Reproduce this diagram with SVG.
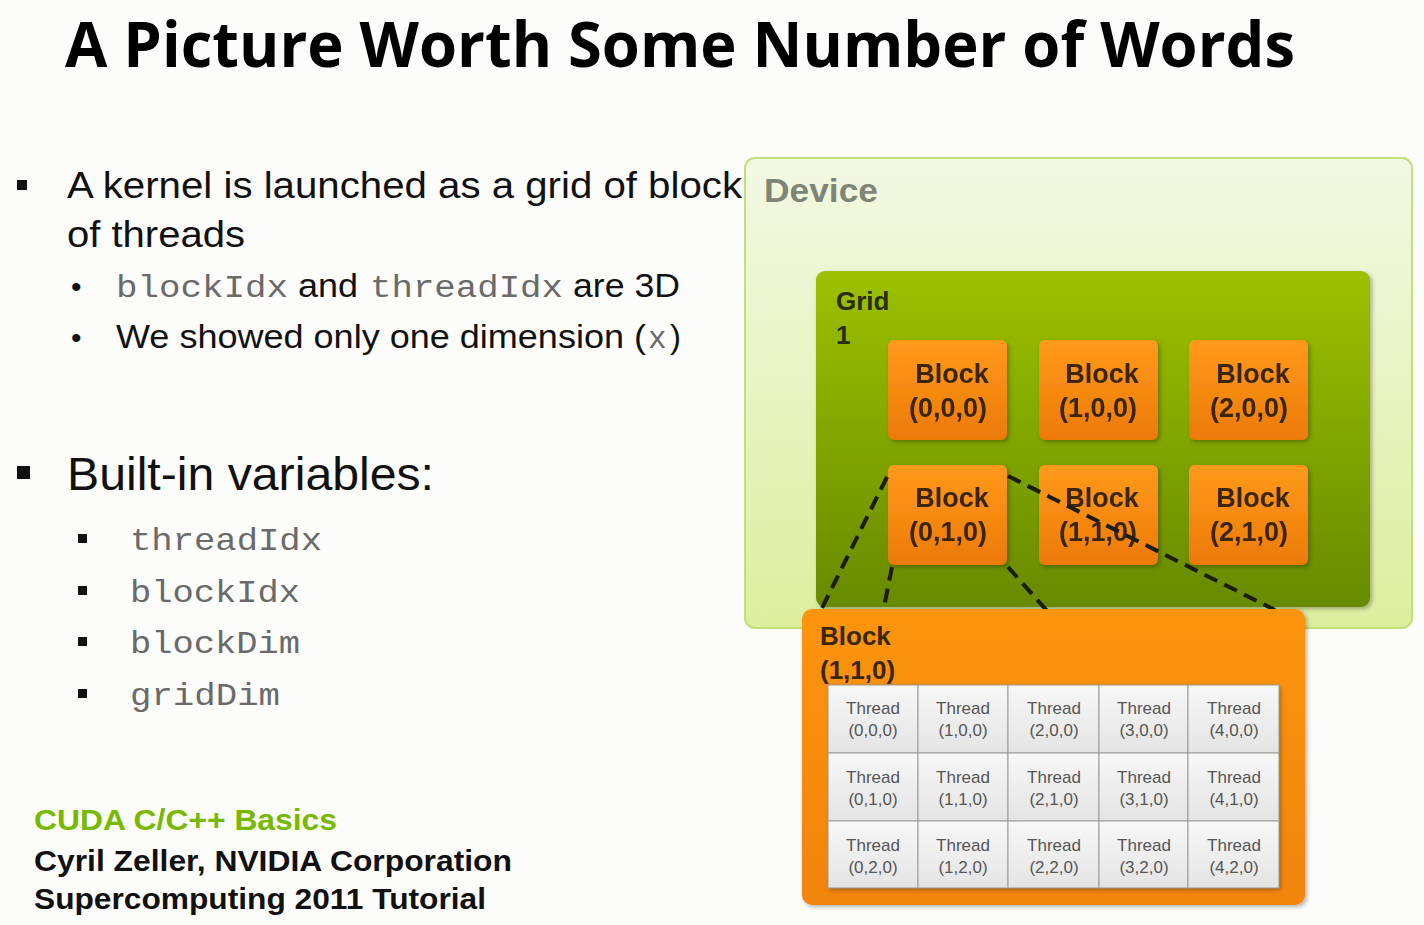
<svg xmlns="http://www.w3.org/2000/svg" width="1424" height="925" viewBox="0 0 1424 925">
  <defs>
    <linearGradient id="devFill" x1="0" y1="0" x2="0" y2="1">
      <stop offset="0" stop-color="#f3f8e4"/>
      <stop offset="1" stop-color="#dcef9e"/>
    </linearGradient>
    <linearGradient id="gridFill" x1="0" y1="0" x2="0" y2="1">
      <stop offset="0" stop-color="#9dc100"/>
      <stop offset="1" stop-color="#678a00"/>
    </linearGradient>
    <linearGradient id="blockFill" x1="0" y1="0" x2="0" y2="1">
      <stop offset="0" stop-color="#ff9a1c"/>
      <stop offset="1" stop-color="#ec7a06"/>
    </linearGradient>
    <linearGradient id="bigFill" x1="0" y1="0" x2="0" y2="1">
      <stop offset="0" stop-color="#fb9410"/>
      <stop offset="1" stop-color="#f28508"/>
    </linearGradient>
    <linearGradient id="cellFill" x1="0" y1="0" x2="0" y2="1">
      <stop offset="0" stop-color="#f7f7f7"/>
      <stop offset="1" stop-color="#e4e4e4"/>
    </linearGradient>
    <filter id="shadow" x="-10%" y="-10%" width="120%" height="120%">
      <feDropShadow dx="2" dy="2" stdDeviation="2" flood-color="#000" flood-opacity="0.3"/>
    </filter>
  </defs>
  <style>
    .title { font-family: "Open Sans", "Liberation Sans", sans-serif; font-weight: 700; font-size: 62px; fill: #000; }
    .body { font-family: "Liberation Sans", Arial, sans-serif; fill: #111; }
    .mono { font-family: "Liberation Mono", "Courier New", monospace; fill: #6a6a6a; }
    .lbl { font-family: "Liberation Sans", Arial, sans-serif; font-weight: 700; }
    .blk { font-family: "Liberation Sans", Arial, sans-serif; font-weight: 700; font-size: 27px; fill: #3b2608; text-anchor: middle; }
    .thr { font-family: "Liberation Sans", Arial, sans-serif; font-size: 17px; fill: #555; text-anchor: middle; }
    .cell { fill: url(#cellFill); stroke: #9a9a9a; stroke-width: 1; }
    .dash { fill: none; stroke: #1c1c10; stroke-width: 4; stroke-dasharray: 14 8; }
  </style>

  <rect width="1424" height="925" fill="#fcfcfa"/>

  <text class="title" x="65" y="67" textLength="1230" lengthAdjust="spacingAndGlyphs">A Picture Worth Some Number of Words</text>

  <!-- bullet text -->
  <g id="bullets">
    <rect x="17" y="180" width="10" height="10" fill="#111"/>
    <text class="body" x="67" y="198" font-size="37" textLength="675" lengthAdjust="spacingAndGlyphs">A kernel is launched as a grid of block</text>
    <text class="body" x="67" y="247" font-size="37" textLength="178" lengthAdjust="spacingAndGlyphs">of threads</text>
    <text class="body" x="71" y="297" font-size="30">•</text>
    <text class="mono" x="116" y="297" font-size="31" textLength="172" lengthAdjust="spacingAndGlyphs">blockIdx</text>
    <text class="body" x="298" y="297" font-size="33" textLength="60" lengthAdjust="spacingAndGlyphs">and</text>
    <text class="mono" x="370" y="297" font-size="31" textLength="193" lengthAdjust="spacingAndGlyphs">threadIdx</text>
    <text class="body" x="573" y="297" font-size="33" textLength="107" lengthAdjust="spacingAndGlyphs">are 3D</text>
    <text class="body" x="71" y="348" font-size="30">•</text>
    <text class="body" x="116" y="348" font-size="33" textLength="530" lengthAdjust="spacingAndGlyphs">We showed only one dimension (</text>
    <text class="mono" x="648" y="348" font-size="31">x</text>
    <text class="body" x="670" y="348" font-size="33">)</text>

    <rect x="17" y="466" width="13" height="13" fill="#111"/>
    <text class="body" x="67" y="490" font-size="46" textLength="367" lengthAdjust="spacingAndGlyphs">Built-in variables:</text>
    <rect x="78" y="534" width="9" height="9" fill="#111"/>
    <text class="mono" x="130" y="550" font-size="32" textLength="192" lengthAdjust="spacingAndGlyphs">threadIdx</text>
    <rect x="78" y="586" width="9" height="9" fill="#111"/>
    <text class="mono" x="130" y="602" font-size="32" textLength="170" lengthAdjust="spacingAndGlyphs">blockIdx</text>
    <rect x="78" y="637" width="9" height="9" fill="#111"/>
    <text class="mono" x="130" y="653" font-size="32" textLength="170" lengthAdjust="spacingAndGlyphs">blockDim</text>
    <rect x="78" y="689" width="9" height="9" fill="#111"/>
    <text class="mono" x="130" y="705" font-size="32" textLength="150" lengthAdjust="spacingAndGlyphs">gridDim</text>
  </g>

  <!-- footer -->
  <g id="footer">
    <text class="lbl" x="34" y="830" font-size="29" fill="#76b900" textLength="303" lengthAdjust="spacingAndGlyphs">CUDA C/C++ Basics</text>
    <text class="lbl" x="34" y="871" font-size="29" fill="#111" textLength="478" lengthAdjust="spacingAndGlyphs">Cyril Zeller, NVIDIA Corporation</text>
    <text class="lbl" x="34" y="909" font-size="29" fill="#111" textLength="452" lengthAdjust="spacingAndGlyphs">Supercomputing 2011 Tutorial</text>
  </g>

  <!-- device container -->
  <g id="device">
    <rect x="745" y="158" width="667" height="470" rx="10" fill="url(#devFill)" stroke="#c4df78" stroke-width="2"/>
    <text class="lbl" x="764" y="202" font-size="34" fill="#7d8676" textLength="114" lengthAdjust="spacingAndGlyphs">Device</text>
  </g>

  <!-- grid container -->
  <g id="grid">
    <rect x="816" y="271" width="554" height="336" rx="9" fill="url(#gridFill)" filter="url(#shadow)"/>
    <text class="lbl" x="836" y="310" font-size="26" fill="#2a2e10">Grid</text>
    <text class="lbl" x="836" y="344" font-size="26" fill="#2a2e10">1</text>
  </g>

  <!-- blocks in the grid -->
  <g id="block-000" filter="url(#shadow)">
    <rect x="888" y="340" width="119" height="100" rx="6" fill="url(#blockFill)"/>
    <text class="blk" x="952" y="383">Block</text>
    <text class="blk" x="948" y="417">(0,0,0)</text>
  </g>
  <g id="block-100" filter="url(#shadow)">
    <rect x="1039" y="340" width="119" height="100" rx="6" fill="url(#blockFill)"/>
    <text class="blk" x="1102" y="383">Block</text>
    <text class="blk" x="1098" y="417">(1,0,0)</text>
  </g>
  <g id="block-200" filter="url(#shadow)">
    <rect x="1189" y="340" width="119" height="100" rx="6" fill="url(#blockFill)"/>
    <text class="blk" x="1253" y="383">Block</text>
    <text class="blk" x="1249" y="417">(2,0,0)</text>
  </g>
  <g id="block-010" filter="url(#shadow)">
    <rect x="888" y="465" width="119" height="100" rx="6" fill="url(#blockFill)"/>
    <text class="blk" x="952" y="507">Block</text>
    <text class="blk" x="948" y="541">(0,1,0)</text>
  </g>
  <g id="block-110" filter="url(#shadow)">
    <rect x="1039" y="465" width="119" height="100" rx="6" fill="url(#blockFill)"/>
    <text class="blk" x="1102" y="507">Block</text>
    <text class="blk" x="1098" y="541">(1,1,0)</text>
  </g>
  <g id="block-210" filter="url(#shadow)">
    <rect x="1189" y="465" width="119" height="100" rx="6" fill="url(#blockFill)"/>
    <text class="blk" x="1253" y="507">Block</text>
    <text class="blk" x="1249" y="541">(2,1,0)</text>
  </g>

  <!-- dashed zoom lines -->
  <g id="connectors">
    <line class="dash" x1="887" y1="477" x2="820" y2="612"/>
    <line class="dash" x1="892" y1="567" x2="883" y2="612"/>
    <line class="dash" x1="1008" y1="567" x2="1048" y2="612"/>
    <line class="dash" x1="1008" y1="476" x2="1275" y2="610"/>
  </g>

  <!-- enlarged block with its threads -->
  <g id="block-detail">
    <rect x="802" y="609" width="503" height="296" rx="10" fill="url(#bigFill)" filter="url(#shadow)"/>
    <text class="lbl" x="820" y="645" font-size="26" fill="#3b2608">Block</text>
    <text class="lbl" x="820" y="679" font-size="26" fill="#3b2608">(1,1,0)</text>
    <g filter="url(#shadow)">
      <rect x="828" y="685" width="451" height="203" fill="#eee"/>
    </g>
    <g id="threads">
      <rect class="cell" x="828" y="685" width="90" height="68"/>
      <rect class="cell" x="918" y="685" width="90" height="68"/>
      <rect class="cell" x="1008" y="685" width="91" height="68"/>
      <rect class="cell" x="1099" y="685" width="89" height="68"/>
      <rect class="cell" x="1188" y="685" width="91" height="68"/>
      <rect class="cell" x="828" y="753" width="90" height="68"/>
      <rect class="cell" x="918" y="753" width="90" height="68"/>
      <rect class="cell" x="1008" y="753" width="91" height="68"/>
      <rect class="cell" x="1099" y="753" width="89" height="68"/>
      <rect class="cell" x="1188" y="753" width="91" height="68"/>
      <rect class="cell" x="828" y="821" width="90" height="67"/>
      <rect class="cell" x="918" y="821" width="90" height="67"/>
      <rect class="cell" x="1008" y="821" width="91" height="67"/>
      <rect class="cell" x="1099" y="821" width="89" height="67"/>
      <rect class="cell" x="1188" y="821" width="91" height="67"/>

      <text class="thr" x="873" y="714">Thread</text><text class="thr" x="873" y="736">(0,0,0)</text>
      <text class="thr" x="963" y="714">Thread</text><text class="thr" x="963" y="736">(1,0,0)</text>
      <text class="thr" x="1054" y="714">Thread</text><text class="thr" x="1054" y="736">(2,0,0)</text>
      <text class="thr" x="1144" y="714">Thread</text><text class="thr" x="1144" y="736">(3,0,0)</text>
      <text class="thr" x="1234" y="714">Thread</text><text class="thr" x="1234" y="736">(4,0,0)</text>

      <text class="thr" x="873" y="783">Thread</text><text class="thr" x="873" y="805">(0,1,0)</text>
      <text class="thr" x="963" y="783">Thread</text><text class="thr" x="963" y="805">(1,1,0)</text>
      <text class="thr" x="1054" y="783">Thread</text><text class="thr" x="1054" y="805">(2,1,0)</text>
      <text class="thr" x="1144" y="783">Thread</text><text class="thr" x="1144" y="805">(3,1,0)</text>
      <text class="thr" x="1234" y="783">Thread</text><text class="thr" x="1234" y="805">(4,1,0)</text>

      <text class="thr" x="873" y="851">Thread</text><text class="thr" x="873" y="873">(0,2,0)</text>
      <text class="thr" x="963" y="851">Thread</text><text class="thr" x="963" y="873">(1,2,0)</text>
      <text class="thr" x="1054" y="851">Thread</text><text class="thr" x="1054" y="873">(2,2,0)</text>
      <text class="thr" x="1144" y="851">Thread</text><text class="thr" x="1144" y="873">(3,2,0)</text>
      <text class="thr" x="1234" y="851">Thread</text><text class="thr" x="1234" y="873">(4,2,0)</text>
    </g>
  </g>
</svg>
